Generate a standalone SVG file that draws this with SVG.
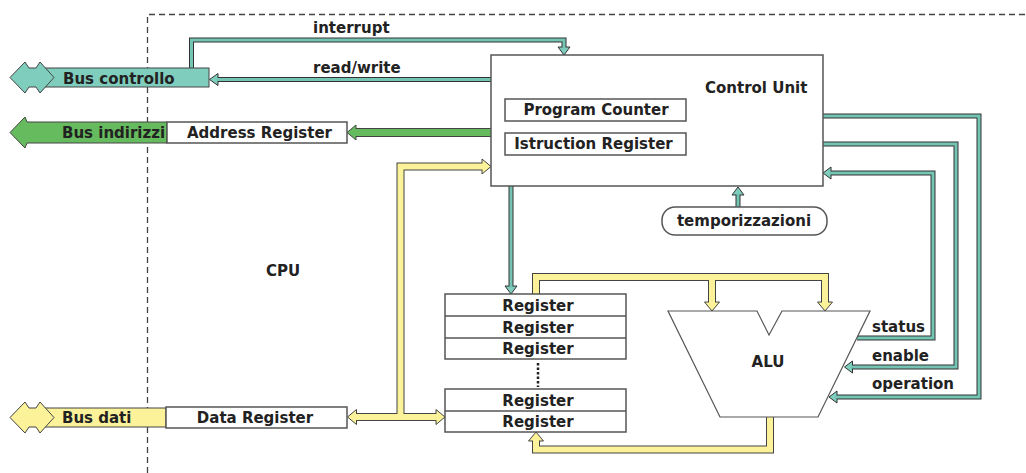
<svg xmlns="http://www.w3.org/2000/svg" width="1026" height="473" viewBox="0 0 1026 473">
<style>
text{font-family:"DejaVu Sans","Liberation Sans",sans-serif;font-weight:bold;font-size:15px;fill:#222}
.c{text-anchor:middle}
.box{fill:#fff;stroke:#555;stroke-width:1.5}
.tk{fill:none;stroke:#333;stroke-width:5}
.tl{fill:none;stroke:#74c4b3;stroke-width:3}
.th{fill:#7fcdbd;stroke:#333;stroke-width:1}
.yk{fill:none;stroke:#444;stroke-width:8}
.yl{fill:none;stroke:#fbf29a;stroke-width:6}
.yh{fill:#fbf29a;stroke:#444;stroke-width:1}
.gk{fill:none;stroke:#444;stroke-width:9}
.gl{fill:none;stroke:#66bb5e;stroke-width:7}
.gh{fill:#66bb5e;stroke:#444;stroke-width:1}
.bus{stroke:#444;stroke-width:1}
</style>
<rect width="1026" height="473" fill="#fff"/>
<path d="M147.5,473 V14.5 H1026" fill="none" stroke="#444" stroke-width="1.3" stroke-dasharray="6 4"/>
<text x="283" y="275.5" class="c">CPU</text>

<g id="connectors">
  <path class="tk" d="M191.5,68 V40 H564 V47.5"/>
  <path class="tk" d="M491,79.5 H217"/>
  <path class="tk" d="M511,186 V287"/>
  <path class="tk" d="M738,207 V194"/>
  <path class="tk" d="M823,116 H979 V397 H836"/>
  <path class="tk" d="M823,144 H956 V367 H851"/>
  <path class="tk" d="M857,338 H933 V173 H830"/>
  <path class="gk" d="M491,132.5 H355"/>
  <path class="yk" d="M355,417 H438"/>
  <path class="yk" d="M400.5,417 V166.5 H483.5"/>
  <path class="yk" d="M536,294 V277 H825 V303.5 M712,277 V303.5"/>
  <path class="yk" d="M770,417 V449.5 H536 V439.5"/>
  <polygon class="th" points="558,47 570,47 564,55"/>
  <polygon class="th" points="209.5,79.5 218,73.5 218,85.5"/>
  <polygon class="th" points="505,286 517,286 511,294"/>
  <polygon class="th" points="732,195 744,195 738,187"/>
  <polygon class="th" points="829,397 837,391 837,403"/>
  <polygon class="th" points="844.5,367 852.5,361 852.5,373"/>
  <polygon class="th" points="823,173 831,167 831,179"/>
  <polygon class="gh" points="347,132.5 356,125 356,140"/>
  <polygon class="yh" points="347.5,417 356.5,409.5 356.5,424.5"/>
  <polygon class="yh" points="445,417 436,409.5 436,424.5"/>
  <polygon class="yh" points="491,166.5 482,159 482,174"/>
  <polygon class="yh" points="704.5,302 719.5,302 712,311"/>
  <polygon class="yh" points="817.5,302 832.5,302 825,311"/>
  <polygon class="yh" points="528.5,441 543.5,441 536,432"/>
  <path class="tl" d="M191.5,68 V40 H564 V48.5"/>
  <path class="tl" d="M491,79.5 H216.5"/>
  <path class="tl" d="M511,186 V287.5"/>
  <path class="tl" d="M738,207 V193.5"/>
  <path class="tl" d="M823,116 H979 V397 H835.5"/>
  <path class="tl" d="M823,144 H956 V367 H850.5"/>
  <path class="tl" d="M857,338 H933 V173 H829.5"/>
  <path class="gl" d="M491,132.5 H354.5"/>
  <path class="yl" d="M355,417 H437.5"/>
  <path class="yl" d="M400.5,417 V166.5 H484"/>
  <path class="yl" d="M536,294 V277 H825 V304 M712,277 V304"/>
  <path class="yl" d="M770,417 V449.5 H536 V439"/>
</g>

<g id="bus-controllo">
  <rect x="44" y="68" width="165" height="19" fill="#7fcdbd" class="bus"/>
  <polygon points="10,77.5 25,62 29,68 36,68 40,62 54,77.5 40,93 36,87 29,87 25,93" fill="#7fcdbd" class="bus"/>
  <text x="63" y="83.5">Bus controllo</text>
</g>
<g id="bus-indirizzi">
  <polygon points="10,132.5 25,117 27,122 167,122 167,143 27,143 25,148" fill="#66bb5e" class="bus"/>
  <text x="62" y="138">Bus indirizzi</text>
</g>
<g id="address-register">
  <rect x="167" y="122" width="180" height="21" class="box"/>
  <text x="259.5" y="137.5" class="c">Address Register</text>
</g>
<g id="bus-dati">
  <rect x="44" y="408" width="122" height="19" fill="#fbf29a" class="bus"/>
  <polygon points="10,417.5 25,402 29,408 36,408 40,402 54,417.5 40,433 36,427 29,427 25,433" fill="#fbf29a" class="bus"/>
  <text x="62" y="423">Bus dati</text>
</g>
<g id="data-register">
  <rect x="166" y="407" width="181" height="21" class="box"/>
  <text x="255" y="422.5" class="c">Data Register</text>
</g>
<g id="labels">
  <text x="313" y="33">interrupt</text>
  <text x="313" y="72.5">read/write</text>
  <text x="872" y="332">status</text>
  <text x="872" y="361">enable</text>
  <text x="872" y="389">operation</text>
</g>
<g id="control-unit">
  <rect x="491" y="55" width="332" height="131" class="box"/>
  <text x="705" y="93">Control Unit</text>
</g>
<g id="program-counter">
  <rect x="505" y="99" width="181" height="22" class="box"/>
  <text x="596" y="114.5" class="c">Program Counter</text>
</g>
<g id="istruction-register">
  <rect x="505" y="133" width="181" height="22" class="box"/>
  <text x="593.5" y="149" class="c">Istruction Register</text>
</g>
<g id="temporizzazioni">
  <rect x="662" y="207" width="165" height="28" rx="13" class="box"/>
  <text x="744" y="225.5" class="c">temporizzazioni</text>
</g>
<g id="registers-top">
  <rect x="445" y="294" width="181" height="65" class="box"/>
  <path d="M445,316 H626 M445,338 H626" stroke="#555" stroke-width="1.5"/>
  <text x="538" y="310.5" class="c">Register</text>
  <text x="538" y="332.5" class="c">Register</text>
  <text x="538" y="354" class="c">Register</text>
</g>
<g id="registers-dots">
  <path d="M538,363 V387" stroke="#222" stroke-width="2.5" stroke-dasharray="2.5 2"/>
</g>
<g id="registers-bottom">
  <rect x="445" y="389" width="181" height="43" class="box"/>
  <path d="M445,411 H626" stroke="#555" stroke-width="1.5"/>
  <text x="538" y="405.5" class="c">Register</text>
  <text x="538" y="427" class="c">Register</text>
</g>
<g id="alu">
  <polygon points="668,311 757,311 769,335 782,311 870,311 818,417 720,417" fill="#fff" stroke="#555" stroke-width="1.2"/>
  <text x="768" y="367" class="c">ALU</text>
</g>
</svg>
